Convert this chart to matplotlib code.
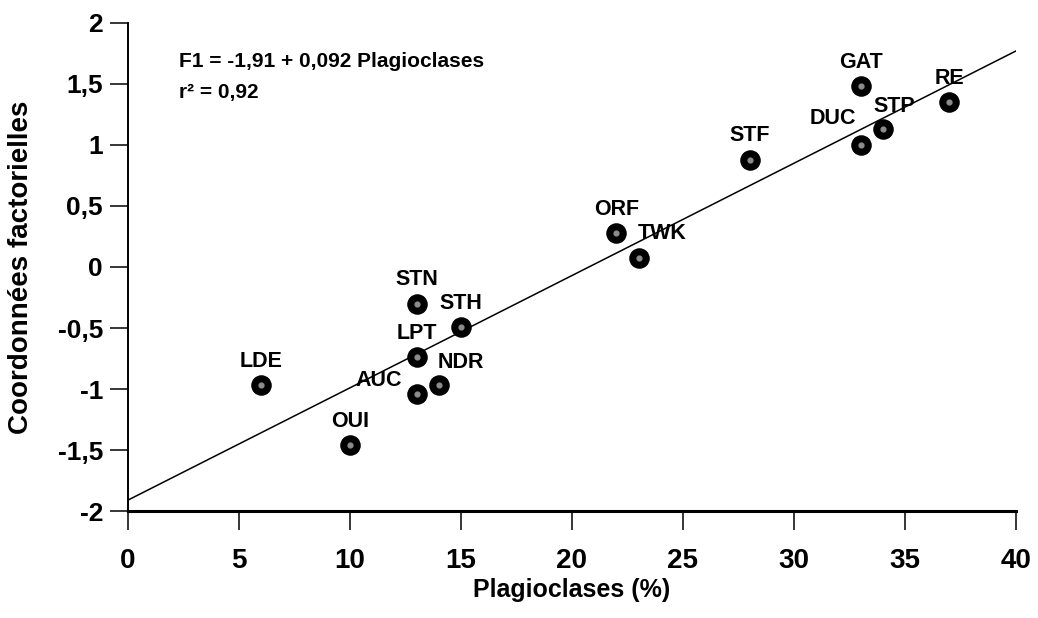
import numpy as np
import matplotlib
matplotlib.use("Agg")
import matplotlib.pyplot as plt

plt.rcParams['font.family'] = ['Liberation Sans', 'DejaVu Sans']
plt.rcParams['font.weight'] = 'bold'
plt.rcParams['axes.labelweight'] = 'bold'

# station codes, plagioclase content (%) and F1 factor coordinates
sites = ['LDE', 'OUI', 'AUC', 'LPT', 'STN', 'STH', 'NDR',
         'ORF', 'TWK', 'STF', 'DUC', 'GAT', 'STP', 'RE']
plagio = [6, 10, 13, 13, 13, 15, 14, 22, 23, 28, 33, 33, 34, 37]
f1 = [-0.97, -1.46, -1.04, -0.74, -0.30, -0.49, -0.97,
      0.28, 0.07, 0.88, 1.00, 1.48, 1.13, 1.35]

# regression F1 = a + b * plagioclases
intercept = -1.91
slope = 0.092
r2 = 0.92

yticks = [-2, -1.5, -1, -0.5, 0, 0.5, 1, 1.5, 2]
ytick_labels = ['-2', '-1,5', '-1', '-0,5', '0', '0,5', '1', '1,5', '2']
xticks = [0, 5, 10, 15, 20, 25, 30, 35, 40]

# label offsets in points (default is straight above the dot)
offsets = {'AUC': (-27, 9.5), 'NDR': (16, 16.5), 'TWK': (17, 18),
           'DUC': (-20, 19), 'STP': (8, 16.5)}

fig = plt.figure(figsize=(10.38, 6.18), dpi=100)
ax = fig.add_axes([0.1233, 0.173, 0.8555, 0.79])

xl = np.array([0, 40])
ax.plot(xl, intercept + slope * xl, color='black', lw=1.1, zorder=2)

ax.scatter(plagio, f1, s=190, color='black', zorder=3)
ax.scatter(plagio, f1, s=12, color='#8c8c8c', zorder=4)

for name, x, y in zip(sites, plagio, f1):
    dx, dy = offsets.get(name, (0, 17))
    ax.annotate(name, (x, y), xytext=(dx, dy), textcoords='offset points',
                ha='center', va='center', fontsize=15.5)

ax.text(0.058, 0.92, 'F1 = -1,91 + 0,092 Plagioclases', transform=ax.transAxes,
        fontsize=15, va='center')
ax.text(0.058, 0.858, 'r² = %s' % str(r2).replace('.', ','), transform=ax.transAxes,
        fontsize=15, va='center')

ax.set_xlim(0, 40)
ax.set_ylim(-2, 2)
ax.set_xticks(xticks)
ax.set_yticks(yticks)
ax.set_yticklabels(ytick_labels)

ax.spines['top'].set_visible(False)
ax.spines['right'].set_visible(False)
ax.spines['left'].set_linewidth(1.4)
ax.spines['bottom'].set_linewidth(2.2)

ax.tick_params(axis='y', direction='out', length=13, width=1.1, pad=5, labelsize=19)
ax.tick_params(axis='x', direction='out', length=13.5, width=1.1, pad=13, labelsize=20)

ax.set_xlabel('Plagioclases (%)', fontsize=18)
ax.xaxis.set_label_coords(0.5, -0.137)
ax.set_ylabel('Coordonnées factorielles', fontsize=20)
ax.yaxis.set_label_coords(-0.106, 0.5)

fig.savefig('out.png', dpi=100)
